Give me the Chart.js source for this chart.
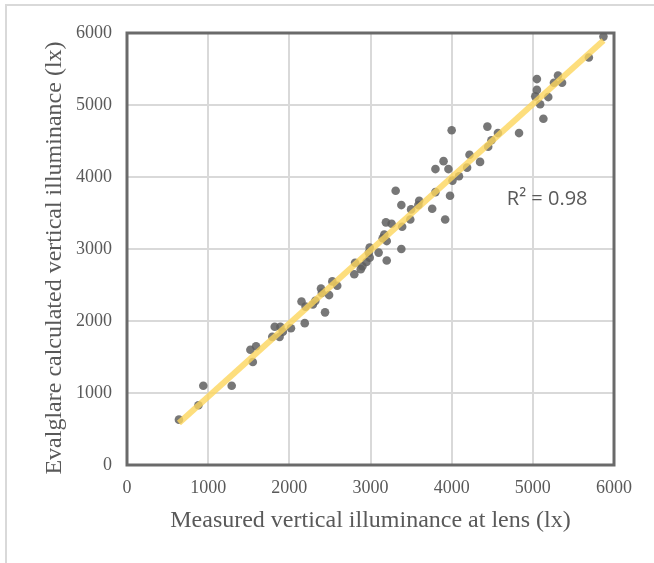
<!DOCTYPE html>
<html>
<head>
<meta charset="utf-8">
<script src="https://cdn.jsdelivr.net/npm/chart.js@4"></script>
<style>
  html, body { margin: 0; padding: 0; background: #fff; }
  #wrap { width: 654px; height: 563px; }
</style>
</head>
<body>
<div id="wrap"><canvas id="myChart" width="654" height="563"></canvas></div>
<script>
// measured vertical illuminance at lens (lx)
const measured = [640, 880, 940, 1290, 1520, 1550, 1590, 1790, 1820, 1880, 1890, 1920, 2020,
  2150, 2190, 2200, 2290, 2320, 2390, 2400, 2440, 2490, 2530, 2590, 2800, 2810, 2880, 2900,
  2950, 2990, 2990, 2980, 3100, 3150, 3170, 3190, 3200, 3200, 3260, 3310, 3380, 3380, 3390,
  3490, 3500, 3590, 3600, 3760, 3800, 3800, 3900, 3920, 3960, 3980, 4000, 4010, 4090, 4190,
  4220, 4350, 4440, 4450, 4490, 4570, 4830, 5030, 5050, 5050, 5090, 5130, 5190, 5260, 5310,
  5360, 5690, 5870];
// evalglare calculated vertical illuminance (lx)
const calculated = [630, 830, 1100, 1100, 1600, 1430, 1650, 1780, 1920, 1780, 1920, 1850, 1900,
  2270, 1970, 2200, 2230, 2280, 2450, 2390, 2120, 2360, 2550, 2490, 2650, 2810, 2720, 2760,
  2820, 2880, 3020, 2950, 2950, 3150, 3200, 3370, 2840, 3110, 3350, 3810, 3610, 3000, 3310,
  3410, 3550, 3610, 3670, 3560, 3790, 4110, 4220, 3410, 4110, 3740, 4650, 3950, 4010, 4130,
  4310, 4210, 4700, 4420, 4510, 4610, 4610, 5120, 5360, 5210, 5010, 4810, 5110, 5310, 5410,
  5310, 5660, 5950];
const xTicks = [0, 1000, 2000, 3000, 4000, 5000, 6000];
const yTicks = [0, 1000, 2000, 3000, 4000, 5000, 6000];
const r2Label = 'R² = 0.98';
const r2Pos = [4680, 3690];

// least squares trendline between the smallest and largest measured value
const n = measured.length;
let sx = 0, sy = 0, sxx = 0, sxy = 0;
for (let i = 0; i < n; i++) {
  sx += measured[i]; sy += calculated[i];
  sxx += measured[i] * measured[i]; sxy += measured[i] * calculated[i];
}
const slope = (n * sxy - sx * sy) / (n * sxx - sx * sx);
const intercept = (sy - slope * sx) / n;
const xMin = Math.min(...measured), xMax = Math.max(...measured);
const trend = [
  {x: xMin, y: slope * xMin + intercept},
  {x: xMax, y: slope * xMax + intercept}
];

const points = measured.map((v, i) => ({x: v, y: calculated[i]}));

const frames = {
  id: 'frames',
  beforeDraw(chart) {
    const ctx = chart.ctx;
    ctx.save();
    ctx.strokeStyle = '#d9d9d9';
    ctx.lineWidth = 2;
    ctx.beginPath();
    ctx.moveTo(6, 563);
    ctx.lineTo(6, 5);
    ctx.lineTo(654, 5);
    ctx.stroke();
    ctx.restore();
  },
  beforeDatasetsDraw(chart) {
    const a = chart.chartArea;
    const ctx = chart.ctx;
    ctx.save();
    ctx.strokeStyle = '#6a6a6a';
    ctx.lineWidth = 3;
    ctx.strokeRect(a.left, a.top, a.right - a.left, a.bottom - a.top);
    ctx.restore();
  },
  afterDatasetsDraw(chart) {
    const ctx = chart.ctx;
    const x = chart.scales.x.getPixelForValue(r2Pos[0]);
    const y = chart.scales.y.getPixelForValue(r2Pos[1]);
    ctx.save();
    ctx.fillStyle = '#595959';
    ctx.font = '20px "Open Sans", sans-serif';
    ctx.textAlign = 'left';
    ctx.textBaseline = 'middle';
    ctx.fillText(r2Label, x, y);
    ctx.restore();
  }
};

const serif = '"Liberation Serif", "Times New Roman", serif';

const config = {
  type: 'scatter',
  data: {
    datasets: [{
      label: 'Trendline',
      type: 'line',
      data: trend,
      borderColor: 'rgba(252, 214, 92, 0.8)',
      borderWidth: 6,
      pointRadius: 0,
      fill: false,
      order: 0
    }, {
      label: 'Points',
      data: points,
      backgroundColor: 'rgba(95, 95, 95, 0.85)',
      borderWidth: 0,
      pointRadius: 4.3,
      order: 1
    }]
  },
  options: {
    responsive: false,
    animation: false,
    layout: { padding: { top: 33, right: 40, left: 0, bottom: 0 } },
    plugins: {
      legend: { display: false },
      tooltip: { enabled: false }
    },
    scales: {
      x: {
        type: 'linear',
        min: 0, max: 6000,
        afterBuildTicks: (s) => { s.ticks = xTicks.map(v => ({value: v})); },
        afterFit: (s) => { s.height = 98; },
        grid: { color: '#d9d9d9', lineWidth: 2, drawTicks: false },
        border: { display: false },
        ticks: { color: '#595959', padding: 12, font: { family: serif, size: 18 }, maxRotation: 0,
          callback: (v) => String(v) },
        title: {
          display: true,
          text: 'Measured vertical illuminance at lens (lx)',
          color: '#595959',
          font: { family: serif, size: 24 },
          padding: { top: 0, bottom: 28 }
        }
      },
      y: {
        type: 'linear',
        min: 0, max: 6000,
        afterBuildTicks: (s) => { s.ticks = yTicks.map(v => ({value: v})); },
        afterFit: (s) => { s.width = 127; },
        grid: { color: '#d9d9d9', lineWidth: 2, drawTicks: false },
        border: { display: false },
        ticks: { color: '#595959', padding: 15, font: { family: serif, size: 18 },
          callback: (v) => String(v) },
        title: {
          display: true,
          // trailing spaces nudge the rotated title down a little
          text: 'Evalglare calculated vertical illuminance (lx)   ',
          color: '#595959',
          font: { family: serif, size: 24 },
          padding: { top: 40, bottom: 0 }
        }
      }
    }
  },
  plugins: [frames]
};

const myChart = new Chart(document.getElementById('myChart'), config);
</script>
</body>
</html>
